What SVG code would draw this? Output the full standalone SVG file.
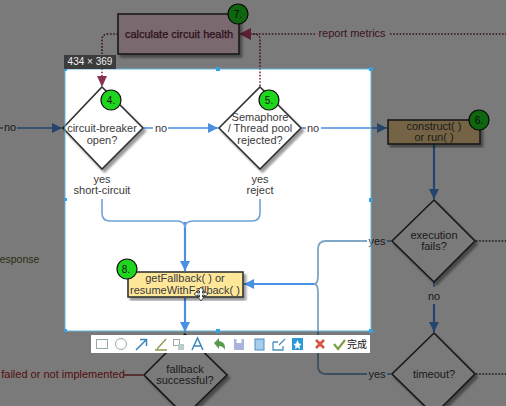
<svg xmlns="http://www.w3.org/2000/svg" width="506" height="406" viewBox="0 0 506 406">
<style>
text{font-family:"Liberation Sans",Arial,"Noto Sans CJK SC",sans-serif;font-size:11px;fill:#3a3a3a;text-anchor:middle}
.d{fill:#fff;stroke:#333;stroke-width:1.6;filter:url(#sh)}
.b{stroke:#333;stroke-width:1.6;filter:url(#sh)}
.c{stroke:#111;stroke-width:1.2}
.bl{fill:none;stroke:#4a90e2;stroke-width:1.6}
.blt{fill:none;stroke:#4a90e2;stroke-width:2.2}
.lb{fill:none;stroke:#6fa3da;stroke-width:1.6}
.gb{fill:none;stroke:#7fa6c4;stroke-width:1.8}
.pu{fill:none;stroke:#7d2a4d;stroke-width:1.6;stroke-dasharray:1.6 1.6}
.rd{fill:none;stroke:#a02828;stroke-width:1.4}
.n{font-size:10px;fill:#111}
.ic{fill:none;stroke:#9aa;stroke-width:1}
</style>
<defs>
<filter id="sh" x="-10%" y="-10%" width="125%" height="125%"><feDropShadow dx="2.5" dy="3" stdDeviation="1" flood-color="#000" flood-opacity=".4"/></filter>
<marker id="ab" markerWidth="12" markerHeight="12" refX="10" refY="5" orient="auto" markerUnits="userSpaceOnUse"><path d="M0 0L10 5L0 10z" fill="#4a90e2"/></marker>
</defs>

<rect width="506" height="406" fill="#fff"/>

<g id="connectors">
<path class="bl" d="M17 128H62" marker-end="url(#ab)"/>
<path class="bl" d="M0 128H3"/>
<path class="bl" d="M144 128H153M168 128H218" marker-end="url(#ab)"/>
<path class="bl" d="M302 128H306M321 128H387" marker-end="url(#ab)"/>
<path class="blt" d="M434 144V199" marker-end="url(#ab)"/>
<path class="blt" d="M434 304V332" marker-end="url(#ab)"/>
<path class="bl" d="M434 282V287"/>
<path class="blt" d="M185 222V271" marker-end="url(#ab)"/>
<path class="blt" d="M185 298V332" marker-end="url(#ab)"/>
<path class="lb" d="M102 199V213Q102 221 110 221H177Q185 221 185 228"/>
<path class="lb" d="M260 199V213Q260 221 252 221H193Q185 221 185 228"/>
<path class="blt" d="M316 284H244" marker-end="url(#ab)"/>
<path class="gb" d="M367 241H326Q318 241 318 249V276Q318 284 314 284"/>
<path class="gb" d="M367 374H326Q318 374 318 366V292Q318 284 314 284"/>
<path class="bl" d="M391 241H387M391 374H387"/>
<path class="pu" d="M118 34H108Q102 34 102 40V78"/>
<path d="M97 76H107L102 87z" fill="#8a3350"/>
<path class="pu" d="M260 86V40Q260 34 254 34H250"/>
<path class="pu" d="M315 34H252M390 34H506"/>
<path d="M251 28V40L239 34z" fill="#c0406f"/>
<path class="pu" d="M476 241H506M476 374H506" style="stroke:#333"/>
<path class="rd" d="M124 375H143"/>
</g>

<g id="n7"><rect class="b" x="118" y="14" width="121" height="40" fill="#ffdbe5"/><text x="179" y="38" style="fill:#5d1f3a;stroke:#5d1f3a;stroke-width:.25">calculate circuit health</text><circle class="c" cx="238" cy="14" r="10" fill="#1fd61f"/><text class="n" x="238" y="18">7.</text></g>
<g id="n4"><path class="d" d="M102 87L143 128L102 169L63 128z"/><text x="102" y="132">circuit-breaker</text><text x="102" y="144">open?</text><circle class="c" cx="111" cy="100" r="10" fill="#1fd61f"/><text class="n" x="111" y="104">4.</text></g>
<g id="n5"><path class="d" d="M260 87L301 128L260 169L219 128z"/><text x="260" y="121">Semaphore</text><text x="260" y="132">/ Thread pool</text><text x="260" y="144">rejected?</text><circle class="c" cx="269" cy="100" r="10" fill="#1fd61f"/><text class="n" x="269" y="104">5.</text></g>
<g id="n6"><rect class="b" x="388" y="120" width="92" height="24" fill="#f2d290"/><text x="434" y="130">construct( )</text><text x="434" y="141">or run( )</text><circle class="c" cx="479" cy="120" r="10" fill="#1fd61f"/><text class="n" x="479" y="124">6.</text></g>
<g id="n8"><rect class="b" x="128" y="272" width="115" height="25" fill="#ffe79a"/><text x="185" y="282">getFallback( ) or</text><text x="185" y="294">resumeWithFallback( )</text><circle class="c" cx="127" cy="269" r="10" fill="#1fd61f"/><text class="n" x="126" y="273">8.</text></g>
<g id="nexec"><path class="d" d="M434 200L475 241L434 282L392 241z"/><text x="434" y="239">execution</text><text x="434" y="250">fails?</text></g>
<g id="ntimeout"><path class="d" d="M434 333L475 374L434 415L392 374z"/><text x="434" y="378">timeout?</text></g>
<g id="nfallback"><path class="d" d="M185 334L227 375L185 416L144 375z"/><text x="185" y="373">fallback</text><text x="185" y="384">successful?</text></g>

<g id="labels">
<text x="10" y="131">no</text>
<text x="161" y="132">no</text>
<text x="313" y="132">no</text>
<text x="102" y="183">yes</text>
<text x="102" y="194">short-circuit</text>
<text x="260" y="183">yes</text>
<text x="260" y="194">reject</text>
<text x="377" y="245">yes</text>
<text x="377" y="378">yes</text>
<text x="434" y="300">no</text>
<text x="352" y="37" style="fill:#7d2a4d">report metrics</text>
<text x="19.500" y="263" style="fill:#55662a;font-size:10.500px">esponse</text>
<text x="63" y="378" style="fill:#b02222">failed or not implemented</text>
</g>

<path id="mask" fill="#000" fill-opacity=".52" fill-rule="evenodd" d="M0 0H506V406H0zM65 69V331H371V69z"/>
<rect x="65" y="69" width="306" height="262" fill="none" stroke="#62b5d8" stroke-width="1"/>
<g id="handles" fill="#3aa0e0"><rect x="64" y="68" width="3" height="3"/><rect x="216" y="67" width="4" height="4"/><rect x="369" y="67" width="4" height="4"/><rect x="64" y="198" width="3" height="3"/><rect x="369" y="198" width="4" height="4"/><rect x="64" y="329" width="3" height="3"/><rect x="216" y="329" width="4" height="4"/><rect x="369" y="329" width="4" height="4"/></g>

<g id="sizebadge"><rect x="64" y="55" width="52" height="14" fill="#3c3c3c"/><text x="90" y="65" style="font-size:10px;fill:#eee">434 × 369</text></g>

<g id="cursor"><path d="M201 287L204 291H202.500V293H204.500V291.500L208 294L204.500 296.500V295H202.500V297H204L201 301L198 297H199.500V295H197.500V296.500L194 294L197.500 291.500V293H199.500V291H198z" fill="#fff" stroke="#222" stroke-width=".8"/></g>

<g id="toolbar">
<rect x="91" y="335" width="279" height="18" fill="#fff"/>
<rect class="ic" x="96.500" y="339.500" width="11" height="9"/>
<circle class="ic" cx="121" cy="344" r="5.500"/>
<path d="M136 350L146 340M140 339.500H146.500V346" fill="none" stroke="#3a86b8" stroke-width="1.500"/>
<path d="M155 350H167M157 349L166 339" fill="none" stroke="#8d9a50" stroke-width="1.400"/>
<rect class="ic" x="173.500" y="339.500" width="6" height="6"/><rect x="178" y="344" width="6" height="6" fill="#bcc"/>
<path d="M192 350L197.500 338L203 350M194 346H201" fill="none" stroke="#3a86b8" stroke-width="1.500"/>
<path d="M214 343L219 338V341Q226 342 225 350Q223 346 219 346V349z" fill="#5a9a50"/>
<rect x="234" y="339" width="10" height="11" fill="#aab4dd"/><rect x="236.500" y="339" width="5" height="4" fill="#fff"/>
<rect x="255" y="339" width="9" height="11" fill="#a8cdea" stroke="#4a90c2"/>
<path d="M273 342H278M273 342V350H283V346M279 345L285 339" fill="none" stroke="#4a90c2" stroke-width="1.300"/>
<rect x="292" y="338" width="11" height="12" fill="#2a9ad8"/><path d="M297.500 340L299 343.500L301.500 344L299.500 346L300 349L297.500 347.500L295 349L295.500 346L293.500 344L296 343.500z" fill="#fff"/>
<path d="M316 340L324 348M324 340L316 348" stroke="#d9503c" stroke-width="2.500"/>
<path d="M334 344L338 349L345 340" fill="none" stroke="#7ba040" stroke-width="2.200"/>
<text x="357" y="348" style="font-size:10px;fill:#111">完成</text>
</g>
</svg>
